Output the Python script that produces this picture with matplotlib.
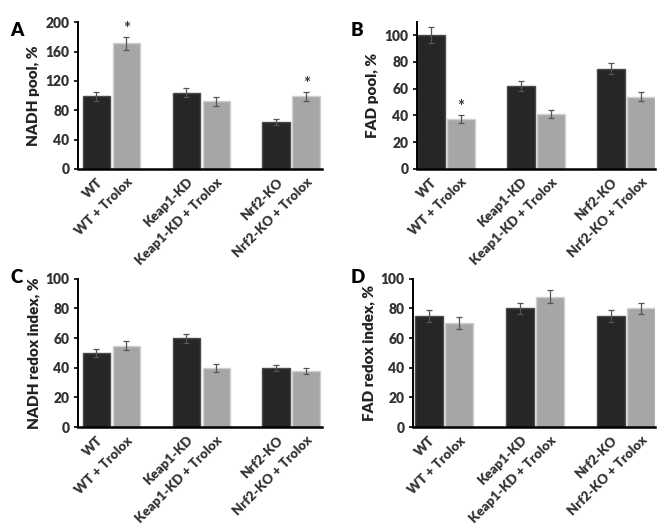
import matplotlib.pyplot as plt
import numpy as np

plt.rcParams['font.family'] = ['Lato', 'DejaVu Sans']
plt.rcParams['font.weight'] = 'bold'

groups = ['WT', 'WT + Trolox', 'Keap1-KD', 'Keap1-KD + Trolox', 'Nrf2-KO', 'Nrf2-KO + Trolox']
xpos = [0, 1, 3, 4, 6, 7]

# panel data: value, error, significance
nadh_pool = [99, 171, 104, 92, 64, 99]
nadh_pool_err = [6, 9, 6, 6, 4, 6]
nadh_pool_sig = [False, True, False, False, False, True]

fad_pool = [100, 37, 62, 41, 75, 54]
fad_pool_err = [6, 3, 4, 3, 4, 3.5]
fad_pool_sig = [False, True, False, False, False, False]

nadh_redox = [50, 55, 60, 40, 40, 38]
nadh_redox_err = [3, 3, 3, 2.5, 2, 2]

fad_redox = [75, 70, 80, 88, 75, 80]
fad_redox_err = [4, 4, 4, 4.5, 4, 4]

bar_colors = ['#262626', '#a6a6a6'] * 3
edge_colors = ['#4a4a4a', '#d0d0d0'] * 3

fig = plt.figure(figsize=(6.71, 5.28), dpi=100)

panels = [
    # letter, rect, values, errs, sig, ylabel, ylim, yticks, xlim, letter pos
    ('A', [0.116, 0.680, 0.364, 0.278], nadh_pool, nadh_pool_err, nadh_pool_sig,
     'NADH pool, %', (0, 200), np.arange(0, 201, 40), (-0.62, 7.53), (0.015, 0.958)),
    ('B', [0.621, 0.680, 0.355, 0.279], fad_pool, fad_pool_err, fad_pool_sig,
     'FAD pool, %', (0, 110), np.arange(0, 101, 20), (-0.47, 7.47), (0.522, 0.958)),
    ('C', [0.116, 0.191, 0.364, 0.281], nadh_redox, nadh_redox_err, None,
     'NADH redox index, %', (0, 100), np.arange(0, 101, 20), (-0.62, 7.53), (0.015, 0.49)),
    ('D', [0.615, 0.191, 0.361, 0.281], fad_redox, fad_redox_err, None,
     'FAD redox index, %', (0, 100), np.arange(0, 101, 20), (-0.54, 7.45), (0.522, 0.49)),
]

for letter, rect, vals, errs, sig, ylabel, ylim, yticks, xlim, lpos in panels:
    ax = fig.add_axes(rect)
    ax.bar(xpos, vals, width=0.92, color=bar_colors, edgecolor=edge_colors, linewidth=1.0, zorder=2)
    ax.errorbar(xpos, vals, yerr=errs, fmt='none', ecolor='#555555', elinewidth=0.9,
                capsize=2.5, capthick=0.9, zorder=3)
    if sig is not None:
        for x, v, e, s in zip(xpos, vals, errs, sig):
            if s:
                ax.annotate('*', (x, v + e), xytext=(0, 0), textcoords='offset points',
                            ha='center', va='bottom', fontsize=12, color='#333333')
    ax.set_xlim(*xlim)
    ax.set_ylim(*ylim)
    ax.set_yticks(yticks)
    ax.set_xticks(xpos)
    ax.set_xticklabels(groups, rotation=45, ha='right', rotation_mode='anchor',
                       fontsize=9.5, color='#333333', fontweight='heavy')
    ax.tick_params(axis='x', length=0, pad=5)
    ax.tick_params(axis='y', length=3, width=1.2, labelsize=10, labelcolor='#333333', pad=3)
    for lab in ax.get_yticklabels():
        lab.set_fontweight('heavy')
    ax.set_ylabel(ylabel, fontsize=11, fontweight='heavy', color='#222222', labelpad=4)
    ax.spines['top'].set_visible(False)
    ax.spines['right'].set_visible(False)
    ax.spines['left'].set_linewidth(1.4)
    ax.spines['bottom'].set_linewidth(1.8)
    fig.text(lpos[0], lpos[1], letter, fontsize=13.5, fontweight='heavy', color='black',
             ha='left', va='top')

fig.savefig('out.png', dpi=100)
